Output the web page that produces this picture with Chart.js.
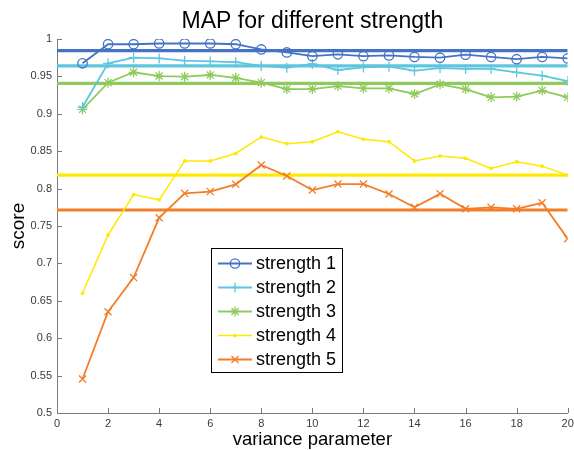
<!DOCTYPE html>
<html><head><meta charset="utf-8">
<script src="https://cdn.jsdelivr.net/npm/chart.js@4.4.1/dist/chart.umd.min.js"></script>
<style>html,body{margin:0;padding:0;background:#fff}#wrap{width:574px;height:450px}</style>
</head><body><div id="wrap"><canvas id="c" width="574" height="450"></canvas></div>
<script>
const variance = [1,2,3,4,5,6,7,8,9,10,11,12,13,14,15,16,17,18,19,20];
const strength1 = [0.9675,0.993,0.993,0.994,0.994,0.994,0.993,0.986,0.982,0.977,0.9795,0.977,0.978,0.976,0.975,0.979,0.976,0.973,0.976,0.974];
const strength2 = [0.909,0.9675,0.975,0.974,0.971,0.970,0.969,0.964,0.9617,0.9666,0.9586,0.962,0.963,0.9577,0.961,0.960,0.960,0.9555,0.951,0.9438];
const strength3 = [0.906,0.9416,0.9555,0.9505,0.9496,0.9519,0.948,0.9416,0.933,0.933,0.937,0.934,0.934,0.9265,0.9394,0.933,0.922,0.923,0.931,0.922];
const strength4 = [0.660,0.738,0.792,0.785,0.837,0.837,0.847,0.869,0.860,0.8627,0.876,0.866,0.8627,0.837,0.8436,0.8405,0.827,0.836,0.830,0.818];
const strength5 = [0.5455,0.6354,0.681,0.761,0.7937,0.796,0.8057,0.8316,0.8168,0.798,0.806,0.806,0.7928,0.775,0.793,0.773,0.775,0.773,0.781,0.733];
const meanLevels = [0.9844,0.964,0.9407,0.818,0.7714];
const seriesNames = ['strength 1','strength 2','strength 3','strength 4','strength 5'];
const chartTitle = 'MAP for different strength';
const xRange = [0,20];
const xTicks = [0,2,4,6,8,10,12,14,16,18,20];
const yTicks = [0.5,0.55,0.6,0.65,0.7,0.75,0.8,0.85,0.9,0.95,1];
const yTickLabels = ['0.5','0.55','0.6','0.65','0.7','0.75','0.8','0.85','0.9','0.95','1'];

const colors = ['#4472C4','#5EC6DE','#8FCB5C','#FFE900','#F47D27'];
const styles = [
  {pointStyle:'circle', r:4.7},
  {pointStyle:'cross', r:5},
  {pointStyle:'star', r:5},
  {pointStyle:'circle', r:1.2},
  {pointStyle:'crossRot', r:5}
];
const allSeries = [strength1,strength2,strength3,strength4,strength5];
const FONT = '"Liberation Sans", Arial, Helvetica, sans-serif';

const datasets = [];
allSeries.forEach((s,k)=>{
  datasets.push({
    label: seriesNames[k],
    showInLegend: true,
    data: variance.map((x,i)=>({x:x,y:s[i]})),
    borderColor: colors[k],
    backgroundColor: k===3 ? colors[k] : 'rgba(0,0,0,0)',
    pointBackgroundColor: k===3 ? colors[k] : 'rgba(0,0,0,0)',
    pointBorderColor: colors[k],
    borderWidth: k===3 ? 1.5 : 1.8,
    pointStyle: styles[k].pointStyle,
    pointRadius: styles[k].r,
    pointBorderWidth: 1.3,
    tension: 0,
    order: 0
  });
});
meanLevels.forEach((m,k)=>{
  datasets.push({
    label: 'mean '+(k+1),
    showInLegend: false,
    data: [{x:xRange[0],y:m},{x:xRange[1],y:m}],
    borderColor: colors[k],
    borderWidth: 3.2,
    pointRadius: 0,
    order: 1
  });
});

const innerTicks = {
  id:'innerTicks',
  afterDraw(chart){
    const ctx = chart.ctx, xs = chart.scales.x, ys = chart.scales.y;
    ctx.save();
    ctx.strokeStyle = '#7a7a7a'; ctx.lineWidth = 1;
    ctx.beginPath();
    xTicks.forEach(v=>{ const px = Math.round(xs.getPixelForValue(v))+0.5; ctx.moveTo(px, ys.bottom); ctx.lineTo(px, ys.bottom-5); });
    yTicks.forEach(v=>{ const py = Math.round(ys.getPixelForValue(v))+0.5; ctx.moveTo(xs.left, py); ctx.lineTo(xs.left+5, py); });
    ctx.stroke();
    ctx.restore();
  }
};

const areaTitle = {
  id:'areaTitle',
  afterDraw(chart){
    const ctx = chart.ctx, a = chart.chartArea;
    ctx.save();
    ctx.font = '23px '+FONT;
    ctx.fillStyle = '#000';
    ctx.textAlign = 'center';
    ctx.textBaseline = 'alphabetic';
    ctx.fillText(chartTitle, (a.left+a.right)/2, 28);
    ctx.restore();
  }
};

const boxLegend = {
  id:'boxLegend',
  afterDraw(chart){
    const ctx = chart.ctx;
    const items = chart.data.datasets.filter(d=>d.showInLegend);
    const x0=211.5, y0=248.5, w=131, h=124;
    ctx.save();
    ctx.fillStyle='#fff'; ctx.fillRect(x0,y0,w,h);
    ctx.strokeStyle='#000'; ctx.lineWidth=1; ctx.strokeRect(x0,y0,w,h);
    ctx.font='18px '+FONT;
    ctx.textBaseline='middle';
    items.forEach((d,i)=>{
      const cy = 263.5 + i*24;
      ctx.strokeStyle = d.borderColor; ctx.lineWidth = d.borderWidth;
      ctx.beginPath(); ctx.moveTo(218,cy); ctx.lineTo(252,cy); ctx.stroke();
      ctx.fillStyle = d.pointBackgroundColor; ctx.strokeStyle = d.pointBorderColor; ctx.lineWidth = d.pointBorderWidth;
      Chart.helpers.drawPoint(ctx,{pointStyle:d.pointStyle,radius:d.pointRadius,borderWidth:d.pointBorderWidth,rotation:0},235,cy);
      ctx.fillStyle='#000';
      ctx.fillText(d.label,256,cy+1);
    });
    ctx.restore();
  }
};

new Chart(document.getElementById('c'),{
  type:'line',
  data:{datasets:datasets},
  options:{
    responsive:false,
    animation:false,
    layout:{padding:{left:0,right:6,top:39,bottom:0}},
    plugins:{
      legend:{display:false},
      tooltip:{enabled:false},
      title:{display:false}
    },
    scales:{
      x:{type:'linear',min:xRange[0],max:xRange[1],
        afterBuildTicks(s){ s.ticks = xTicks.map(v=>({value:v})); },
        afterFit(s){ s.height = 37; s.paddingLeft = 0; s.paddingRight = 0; },
        grid:{display:false,drawTicks:false},
        border:{display:true,color:'#7a7a7a',width:1},
        ticks:{color:'#3a3a3a',font:{family:FONT,size:11},padding:4,maxRotation:0,autoSkip:false,
          callback:(v)=>String(v)},
        title:{display:true,text:'variance parameter',color:'#000',
          font:{family:FONT,size:18.5,lineHeight:1},padding:{top:0,bottom:1}}
      },
      y:{type:'linear',min:yTicks[0],max:yTicks[yTicks.length-1],
        afterBuildTicks(s){ s.ticks = yTicks.map(v=>({value:v})); },
        afterFit(s){ s.width = 57; s.paddingTop = 0; },
        grid:{display:false,drawTicks:false},
        border:{display:true,color:'#7a7a7a',width:1},
        ticks:{color:'#3a3a3a',font:{family:FONT,size:11},padding:5,autoSkip:false,
          callback:(v,i)=>yTickLabels[i]},
        title:{display:true,text:'score',color:'#000',
          font:{family:FONT,size:19,lineHeight:1},padding:{top:9,bottom:0}}
      }
    }
  },
  plugins:[innerTicks,areaTitle,boxLegend]
});
</script>
</body></html>
